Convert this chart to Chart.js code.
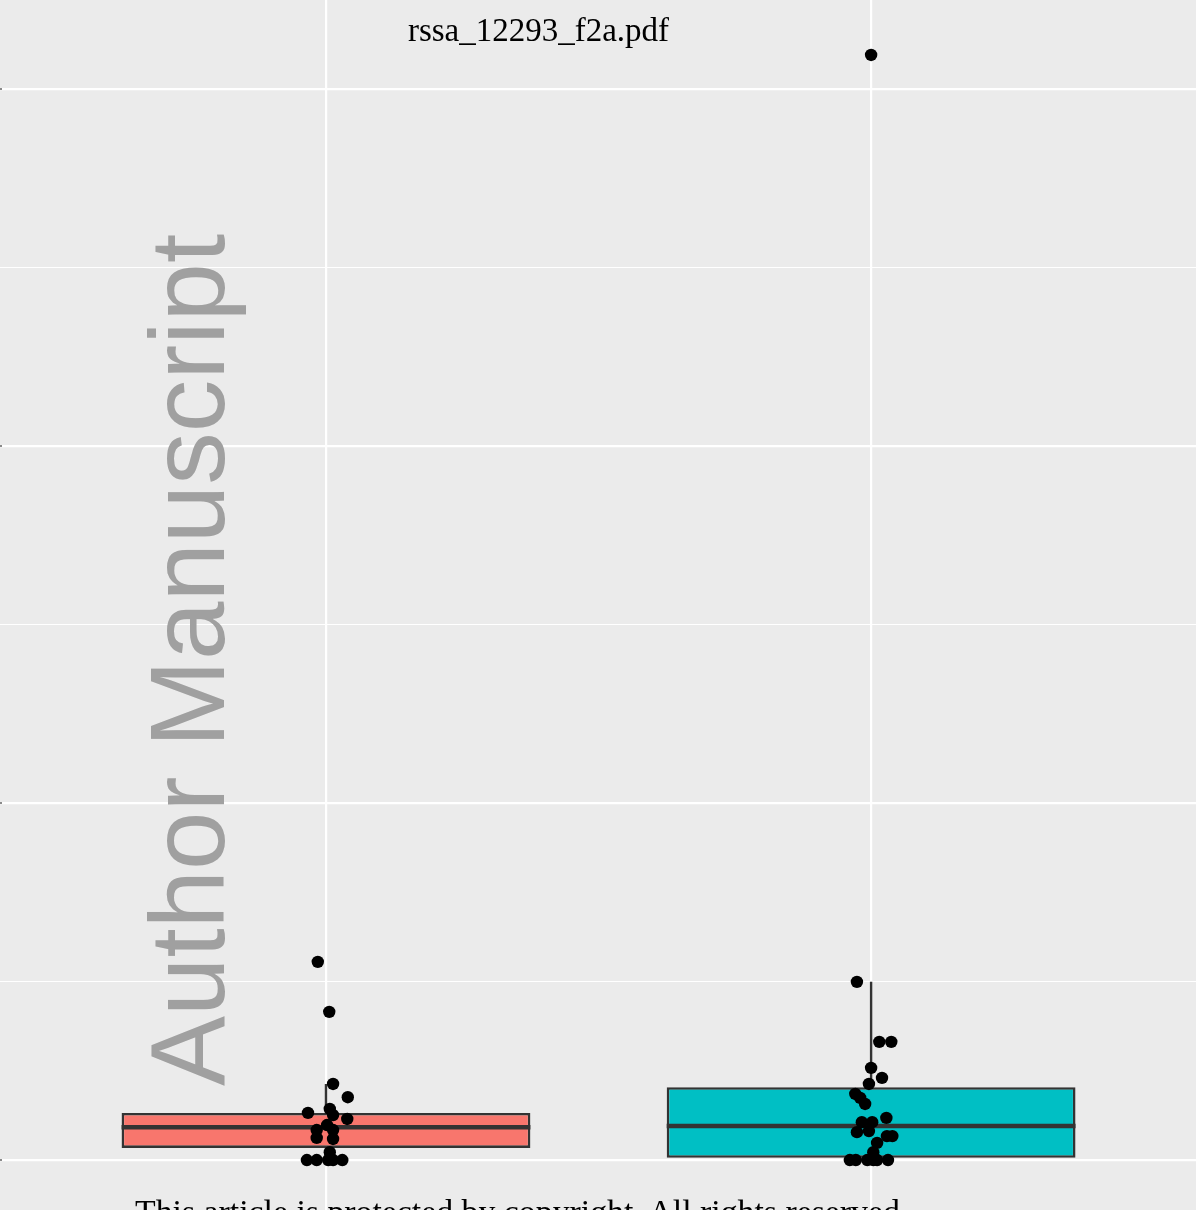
<!DOCTYPE html>
<html>
<head>
<meta charset="utf-8">
<script src="https://cdn.jsdelivr.net/npm/chart.js@4.4.0/dist/chart.umd.min.js"></script>
<style>
  html, body { margin: 0; padding: 0; width: 1196px; height: 1210px; overflow: hidden; background: #EBEBEB; }
  #wrap { position: relative; width: 1196px; height: 1210px; }
  canvas { position: absolute; left: 0; top: 0; }
  .title { position: absolute; left: 0; width: 1077px; top: 10px; text-align: center;
           font-family: "Liberation Serif", "DejaVu Serif", serif; font-size: 33px; line-height: 40px; color: #000; }
  .mark { position: absolute; left: 135px; top: 1086px; transform-origin: 0 0; transform: rotate(-90deg);
          font-family: "Liberation Sans", Arial, sans-serif; font-size: 105px; line-height: 105px;
          color: #a0a0a0; white-space: nowrap; }
  .foot { position: absolute; left: 135px; top: 1192px; white-space: nowrap;
          font-family: "Liberation Serif", "DejaVu Serif", serif; font-size: 33.8px; line-height: 40px; color: #000; }
</style>
</head>
<body>
<div id="wrap">
  <canvas id="c" width="1196" height="1210"></canvas>
  <div class="title">rssa_12293_f2a.pdf</div>
  <div class="mark">Author Manuscript</div>
  <div class="foot">This article is protected by copyright. All rights reserved</div>
</div>
<script>
// Two groups, each shown as a box (Q1–Q3, median, whiskers) with jittered observations.
const groups      = [1, 2];
const boxColors   = ['#F8766D', '#00BFC4'];
const q1          = [0.34, 0.06];
const median      = [0.92, 0.95];
const q3          = [1.32, 2.04];
const whiskerLow  = [0, 0];
const whiskerHigh = [2.13, 4.99];

// Jittered observations: horizontal position around the group, and value.
const group1X = [0.985, 1.006, 1.013, 1.040, 0.967, 1.007, 1.013, 1.039, 1.002, 0.983, 1.013, 0.983, 1.013, 1.007, 0.965, 0.983, 1.004, 1.013, 1.030];
const group1Y = [5.55, 4.15, 2.13, 1.76, 1.32, 1.43, 1.26, 1.15, 0.98, 0.84, 0.84, 0.62, 0.59, 0.22, 0, 0, 0, 0, 0];
const group2X = [2.000, 1.974, 2.015, 2.037, 2.000, 2.020, 1.996, 1.971, 1.980, 1.989, 1.983, 2.002, 2.028, 1.974, 1.996, 2.029, 2.039, 2.011, 2.004, 1.961, 1.972, 1.993, 2.004, 2.011, 2.031];
const group2Y = [30.95, 4.99, 3.31, 3.31, 2.58, 2.30, 2.13, 1.85, 1.74, 1.57, 1.06, 1.06, 1.18, 0.78, 0.81, 0.67, 0.67, 0.48, 0.22, 0, 0, 0, 0, 0, 0];

// Axis layout
const yTicks = [0, 5, 10, 15, 20, 25, 30];
const yMajor = [0, 10, 20, 30];
const yMin = -1.40, yMax = 32.49;
const xMin = 0.402, xMax = 2.596;
const boxHalfWidth = 0.375;

const points = group1X.map((x, i) => ({ x, y: group1Y[i] }))
  .concat(group2X.map((x, i) => ({ x, y: group2Y[i] })));

const boxPlugin = {
  id: 'boxParts',
  beforeDatasetsDraw(chart) {
    // whiskers (drawn under the boxes)
    const { ctx, scales: { x, y } } = chart;
    ctx.save();
    ctx.strokeStyle = '#333333';
    ctx.lineWidth = 2.4;
    groups.forEach((g, i) => {
      const px = x.getPixelForValue(g);
      ctx.beginPath();
      ctx.moveTo(px, y.getPixelForValue(q3[i]));
      ctx.lineTo(px, y.getPixelForValue(whiskerHigh[i]));
      ctx.moveTo(px, y.getPixelForValue(q1[i]));
      ctx.lineTo(px, y.getPixelForValue(whiskerLow[i]));
      ctx.stroke();
    });
    // clipped axis tick stubs on the left edge
    ctx.strokeStyle = '#8a8a8a';
    ctx.lineWidth = 2;
    yMajor.forEach(v => {
      const py = y.getPixelForValue(v);
      ctx.beginPath();
      ctx.moveTo(0, py);
      ctx.lineTo(2, py);
      ctx.stroke();
    });
    ctx.restore();
  },
  afterDatasetDraw(chart, args) {
    if (args.index !== 0) return;
    // median lines on top of the boxes
    const { ctx, scales: { x, y } } = chart;
    ctx.save();
    ctx.strokeStyle = '#333333';
    ctx.lineWidth = 4.5;
    groups.forEach((g, i) => {
      const py = y.getPixelForValue(median[i]);
      ctx.beginPath();
      ctx.moveTo(x.getPixelForValue(g - boxHalfWidth), py);
      ctx.lineTo(x.getPixelForValue(g + boxHalfWidth), py);
      ctx.stroke();
    });
    ctx.restore();
  }
};

new Chart(document.getElementById('c'), {
  type: 'bar',
  data: {
    datasets: [
      {
        type: 'bar',
        data: groups.map((g, i) => ({ x: g, y: [q1[i], q3[i]] })),
        backgroundColor: boxColors,
        borderColor: '#333333',
        borderWidth: 2.6,
        borderSkipped: false,
        grouped: false,
        categoryPercentage: 1,
        barPercentage: boxHalfWidth * 2,
        order: 2
      },
      {
        type: 'scatter',
        data: points,
        backgroundColor: '#000000',
        borderColor: '#000000',
        borderWidth: 0,
        pointRadius: 6.2,
        order: 1
      }
    ]
  },
  options: {
    responsive: false,
    animation: false,
    devicePixelRatio: 1,
    layout: { padding: 0, autoPadding: false },
    plugins: { legend: { display: false }, tooltip: { enabled: false }, title: { display: false } },
    scales: {
      x: {
        type: 'linear',
        offset: false,
        min: xMin, max: xMax,
        afterBuildTicks: s => { s.ticks = groups.map(v => ({ value: v })); },
        ticks: { display: false },
        border: { display: false },
        grid: { offset: false, color: '#FFFFFF', lineWidth: 2.2, drawTicks: false, tickLength: 0 }
      },
      y: {
        type: 'linear',
        offset: false,
        min: yMin, max: yMax,
        afterBuildTicks: s => { s.ticks = yTicks.map(v => ({ value: v })); },
        ticks: { display: false },
        border: { display: false },
        grid: {
          offset: false,
          color: '#FFFFFF',
          lineWidth: c => (yMajor.includes(c.tick.value) ? 2.2 : 1.1),
          drawTicks: false, tickLength: 0
        }
      }
    }
  },
  plugins: [boxPlugin]
});
</script>
</body>
</html>
